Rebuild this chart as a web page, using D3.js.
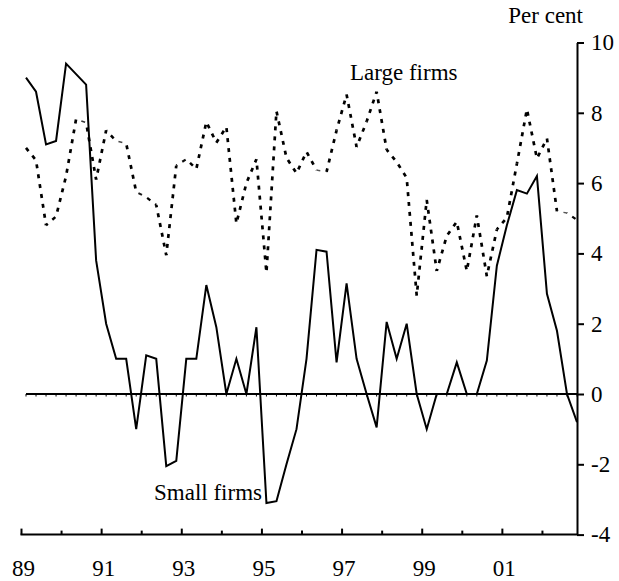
<!DOCTYPE html>
<html>
<head>
<meta charset="utf-8">
<script src="https://cdn.jsdelivr.net/npm/d3@7/dist/d3.min.js"></script>
<style>
  html, body { margin: 0; padding: 0; background: #fff; }
  svg, svg text { font-family: "Liberation Serif", "Times New Roman", Times, "DejaVu Serif", serif !important; }
</style>
</head>
<body>
<script>
// Quarterly growth, per cent, 1989 Q1 – 2002 Q4
const startYear = 1989;
const nQuarters = 56;

const smallFirms = [
  9.0, 8.6, 7.1, 7.2, 9.4, 9.1, 8.8, 3.8,
  2.0, 1.0, 1.0, -1.0, 1.1, 1.0, -2.05, -1.9,
  1.0, 1.0, 3.1, 1.9, 0.0, 1.0, 0.0, 1.9,
  -3.1, -3.05, -2.0, -1.0, 1.0, 4.1, 4.05, 0.9,
  3.15, 1.0, 0.0, -0.95, 2.05, 1.0, 2.0, 0.0,
  -1.0, 0.0, 0.0, 0.9, 0.0, 0.0, 0.95, 3.65,
  4.8, 5.8, 5.7, 6.2, 2.85, 1.8, 0.0, -0.8
];

const largeFirms = [
  7.0, 6.65, 4.8, 5.05, 6.2, 7.82, 7.72, 6.1,
  7.5, 7.2, 7.13, 5.75, 5.6, 5.38, 3.95, 6.5,
  6.68, 6.4, 7.74, 7.15, 7.6, 4.85, 6.0, 6.68,
  3.45, 8.05, 6.72, 6.28, 6.89, 6.37, 6.32, 7.5,
  8.52, 7.03, 7.75, 8.6, 6.95, 6.6, 6.15, 2.8,
  5.52, 3.5, 4.5, 4.9, 3.5, 5.08, 3.35, 4.68,
  5.02, 6.55, 8.1, 6.7, 7.27, 5.2, 5.15, 4.95
];

const yTicks = [-4, -2, 0, 2, 4, 6, 8, 10];
const yearLabels = ["89", "91", "93", "95", "97", "99", "01"];

const W = 619, H = 581;
const SERIF = '"Liberation Serif", "Times New Roman", Times, "DejaVu Serif", serif';
const FONT = 23;

const svg = d3.select("body").append("svg").attr("width", W).attr("height", H);

const x = d3.scaleLinear().domain([0, nQuarters - 1]).range([26, 577]);
const y = d3.scaleLinear().domain([-4, 10]).range([534.6, 42.5]);

function styleText(sel) {
  sel.style("font-family", SERIF).style("font-size", FONT + "px").attr("fill", "#000");
}

// Right-hand value axis
const yAxis = svg.append("g")
  .attr("transform", `translate(${x(nQuarters - 1)},0)`)
  .call(d3.axisRight(y).tickValues(yTicks).tickSize(7).tickSizeOuter(0).tickPadding(7)
    .tickFormat(d => d < 0 ? "-" + Math.abs(d) : String(d)));
yAxis.attr("font-family", null).attr("font-size", null);
yAxis.select(".domain").attr("stroke", "#000").attr("stroke-width", 2);
yAxis.selectAll(".tick line").attr("stroke", "#000").attr("stroke-width", 2);
yAxis.selectAll(".tick text").call(styleText);

// Bottom time axis: ticks at each year boundary, labels on odd years
const yearIdx = d3.range(0, 14).map(k => 4 * k - 0.5);
const labelled = yearIdx.filter((d, k) => k % 2 === 0);
const unlabelled = yearIdx.filter((d, k) => k % 2 === 1);
const yBase = y(-4);

svg.append("line")
  .attr("x1", x(-0.55)).attr("x2", x(nQuarters - 1) + 1)
  .attr("y1", yBase).attr("y2", yBase)
  .attr("stroke", "#000").attr("stroke-width", 2);

const xMajor = svg.append("g")
  .attr("transform", `translate(0,${yBase})`)
  .call(d3.axisBottom(x).tickValues(labelled).tickSize(-6).tickSizeOuter(0).tickPadding(25)
    .tickFormat((d, i) => yearLabels[i]));
xMajor.attr("font-family", null).attr("font-size", null);
xMajor.select(".domain").remove();
xMajor.selectAll(".tick line").attr("stroke", "#000").attr("stroke-width", 2);
xMajor.selectAll(".tick text").call(styleText).attr("dx", 2);

const xMinor = svg.append("g")
  .attr("transform", `translate(0,${yBase})`)
  .call(d3.axisBottom(x).tickValues(unlabelled).tickSize(-4).tickSizeOuter(0).tickFormat(""));
xMinor.select(".domain").remove();
xMinor.selectAll(".tick line").attr("stroke", "#000").attr("stroke-width", 2);

// Zero line with small quarter marks
svg.append("line")
  .attr("x1", x(0)).attr("x2", x(nQuarters - 1))
  .attr("y1", y(0)).attr("y2", y(0))
  .attr("stroke", "#000").attr("stroke-width", 2);
svg.append("g").selectAll("line")
  .data(d3.range(nQuarters))
  .join("line")
  .attr("x1", d => x(d)).attr("x2", d => x(d))
  .attr("y1", y(0)).attr("y2", y(0) + 2.5)
  .attr("stroke", "#000").attr("stroke-width", 1);

// Large firms: dotted line drawn segment by segment, keeping the dash phase
// continuous; shallow segments print finer than steep ones.
const pts = largeFirms.map((v, i) => [x(i), y(v)]);
const segs = [];
let run = 0;
for (let i = 0; i < pts.length - 1; i++) {
  const [x1, y1] = pts[i], [x2, y2] = pts[i + 1];
  const len = Math.hypot(x2 - x1, y2 - y1);
  const steep = Math.abs(y2 - y1) / len;
  segs.push({ x1, y1, x2, y2, off: run, steep });
  run += len;
}
svg.append("g").selectAll("line")
  .data(segs)
  .join("line")
  .attr("x1", d => d.x1).attr("y1", d => d.y1)
  .attr("x2", d => d.x2).attr("y2", d => d.y2)
  .attr("stroke", d => d.steep > 0.6 ? "#000" : d3.interpolateRgb("#777", "#000")(d.steep / 0.6))
  .attr("stroke-width", d => 1.1 + 1.6 * Math.min(1, d.steep / 0.8))
  .attr("stroke-dasharray", "4 6")
  .attr("stroke-dashoffset", d => d.off);

// Small firms: solid
svg.append("path")
  .datum(smallFirms)
  .attr("d", d3.line().x((d, i) => x(i)).y(d => y(d)))
  .attr("fill", "none")
  .attr("stroke", "#000")
  .attr("stroke-width", 2)
  .attr("stroke-linejoin", "miter");

// Series names and unit
const txt = (s, xx, yy, anchor) => svg.append("text")
  .attr("x", xx).attr("y", yy)
  .attr("text-anchor", anchor || "start")
  .call(styleText).text(s);

txt("Large firms", 350, 80);
txt("Small firms", 154, 500);
txt("Per cent", 583, 23, "end");
</script>
</body>
</html>
